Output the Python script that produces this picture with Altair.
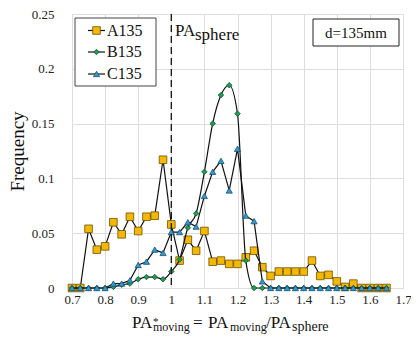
import altair as alt
import pandas as pd

x_vals = [0.7, 0.725, 0.75, 0.775, 0.8, 0.825, 0.85, 0.875, 0.9, 0.925,
          0.95, 0.975, 1.0, 1.025, 1.05, 1.075, 1.1, 1.125, 1.15, 1.175,
          1.2, 1.225, 1.25, 1.275, 1.3, 1.325, 1.35, 1.375, 1.4, 1.425,
          1.45, 1.475, 1.5, 1.525, 1.55, 1.575, 1.6, 1.625, 1.65]

A135 = [0, 0, 0.054, 0.035, 0.038, 0.060, 0.049, 0.065, 0.052, 0.065,
        0.066, 0.117, 0.058, 0.025, 0.044, 0.034, 0.052, 0.024, 0.025, 0.022,
        0.022, 0.028, 0.034, 0.019, 0.011, 0.015, 0.015, 0.015, 0.015, 0.025,
        0.011, 0.012, 0.006, 0.001, 0.004, 0, 0, 0, 0]
B135 = [0, 0, 0, 0, 0, 0.001, 0.003, 0.004, 0.008, 0.010,
        0.010, 0.008, 0.015, 0.026, 0.055, 0.068, 0.106, 0.150, 0.176, 0.185,
        0.159, 0.025, 0, 0, 0, 0, 0, 0, 0, 0,
        0, 0, 0, 0, 0, 0, 0, 0, 0]
C135 = [0, 0, 0, 0, 0, 0.004, 0.004, 0.007, 0.021, 0.024,
        0.035, 0.032, 0.051, 0.051, 0.060, 0.056, 0.084, 0.106, 0.116, 0.089,
        0.127, 0.066, 0.061, 0.006, 0, 0, 0, 0, 0, 0,
        0, 0, 0, 0, 0, 0, 0, 0, 0]

series_names = ["A135", "B135", "C135"]
fills = ["#F5B800", "#1E9E55", "#2F9BD3"]
strokes = ["#6B5200", "#0E4F2A", "#1A4F70"]
shapes = ["square", "diamond", "triangle-up"]
sizes = [58, 30, 38]
interps = ["linear", "monotone", "linear"]

x_ticks = [0.7, 0.8, 0.9, 1.0, 1.1, 1.2, 1.3, 1.4, 1.5, 1.6, 1.7]
y_ticks = [0, 0.05, 0.1, 0.15, 0.2, 0.25]

FONT = "Liberation Serif"
W, H = 331, 274

xs = alt.Scale(domain=[0.7, 1.7], nice=False, zero=False)
ys = alt.Scale(domain=[0, 0.25], nice=False)

y_label_expr = ("datum.value == 0 ? '0' : datum.value == 0.05 ? '0.05' : datum.value == 0.1 ? '0.1' : "
                "datum.value == 0.15 ? '0.15' : datum.value == 0.2 ? '0.2' : '0.25'")

x_axis = alt.Axis(values=x_ticks, title=None, grid=True, ticks=False,
                  domain=False, labelFont=FONT, labelFontSize=13,
                  labelColor="#222", labelPadding=5,
                  labelFlush=False, labelOverlap=False,
                  labelExpr="datum.value == 1 ? '1' : format(datum.value, '.1f')")
x_enc = alt.X("x:Q", scale=xs, axis=x_axis)
y_enc = alt.Y("y:Q", scale=ys,
              axis=alt.Axis(values=y_ticks, title="Frequency", grid=True, ticks=False,
                            domain=False, labelFont=FONT, labelFontSize=13,
                            labelColor="#222", labelPadding=18, labelExpr=y_label_expr,
                            labelFlush=False, labelOverlap=False,
                            titleFont=FONT, titleFontSize=19, titleFontWeight="normal",
                            titleColor="#111", titlePadding=4))

layers = []
for name, vals, fc, sc, sh, sz, ip in zip(series_names, [A135, B135, C135], fills,
                                         strokes, shapes, sizes, interps):
    df = pd.DataFrame({"x": x_vals, "y": vals})
    base = alt.Chart(df)
    layers.append(base.mark_line(color="#111", strokeWidth=1.2, interpolate=ip)
                  .encode(x=x_enc, y=y_enc))
    layers.append(base.mark_point(shape=sh, filled=True, fill=fc, stroke=sc,
                                  strokeWidth=0.8, size=sz, opacity=1)
                  .encode(x=x_enc, y=y_enc))

# dashed reference line at PA* = 1
ref = alt.Chart(pd.DataFrame({"x": [1.0]})).mark_rule(
    color="#111", strokeDash=[7, 4], strokeWidth=1.3).encode(x=x_enc)


def txt(t, fs, px, py, align="left", baseline="alphabetic"):
    return alt.Chart(pd.DataFrame({"t": [t]})).mark_text(
        font=FONT, fontSize=fs, align=align, baseline=baseline, color="#111"
    ).encode(text="t:N", x=alt.value(px), y=alt.value(py))


# PA_sphere annotation
ann = [txt("PA", 17, 103, 22), txt("sphere", 17, 123, 26)]

# d=135mm box
dbox = [
    alt.Chart(pd.DataFrame({"a": [0]})).mark_rect(fill="white", stroke="#222", strokeWidth=1)
    .encode(x=alt.value(241), x2=alt.value(327), y=alt.value(5), y2=alt.value(32)),
    txt("d=135mm", 15, 284, 19, align="center", baseline="middle"),
]

# legend
leg_y = [16.5, 38, 60]
leg_df = pd.DataFrame({"name": series_names, "ly": leg_y})
legend = [
    alt.Chart(pd.DataFrame({"a": [0]})).mark_rect(fill="white", stroke="#444", strokeWidth=1)
    .encode(x=alt.value(3), x2=alt.value(84), y=alt.value(4), y2=alt.value(72)),
    alt.Chart(leg_df).mark_rule(color="#111", strokeWidth=1.2)
    .encode(x=alt.value(16), x2=alt.value(33), y=alt.Y("ly:Q", scale=None)),
]
for name, fc, sc, sh, sz, ly in zip(series_names, fills, strokes, shapes, sizes, leg_y):
    legend.append(alt.Chart(pd.DataFrame({"name": [name]})).mark_point(
        shape=sh, filled=True, fill=fc, stroke=sc, strokeWidth=0.8, size=sz, opacity=1)
        .encode(x=alt.value(24.5), y=alt.value(ly)))
legend.append(alt.Chart(leg_df).mark_text(font=FONT, fontSize=16, align="left",
                                          baseline="middle", color="#111")
              .encode(text="name:N", x=alt.value(35), y=alt.Y("ly:Q", scale=None)))

# x-axis title built from pieces (sub/superscripts)
xtitle = [
    txt("PA", 17, 60, 314), txt("*", 11, 81, 311), txt("moving", 12, 81, 317),
    txt("=", 17, 121, 314), txt("PA", 17, 136, 314), txt("moving", 12, 158, 317),
    txt("/PA", 17, 194, 314), txt("sphere", 14, 220, 317),
]

chart = alt.layer(*layers, ref, *ann, *dbox, *legend, *xtitle).properties(
    width=W, height=H,
    autosize=alt.AutoSizeParams(type="none"),
    padding={"left": 64, "top": 6, "right": 8, "bottom": 50},
).configure_view(stroke=None).configure_axis(
    gridColor="#dcdcdc", gridWidth=1
).configure_axisX(labelOverlap=False, labelFlush=False).configure(background="white")

chart.save("out.html", embed_options={"renderer": "svg", "actions": False})
